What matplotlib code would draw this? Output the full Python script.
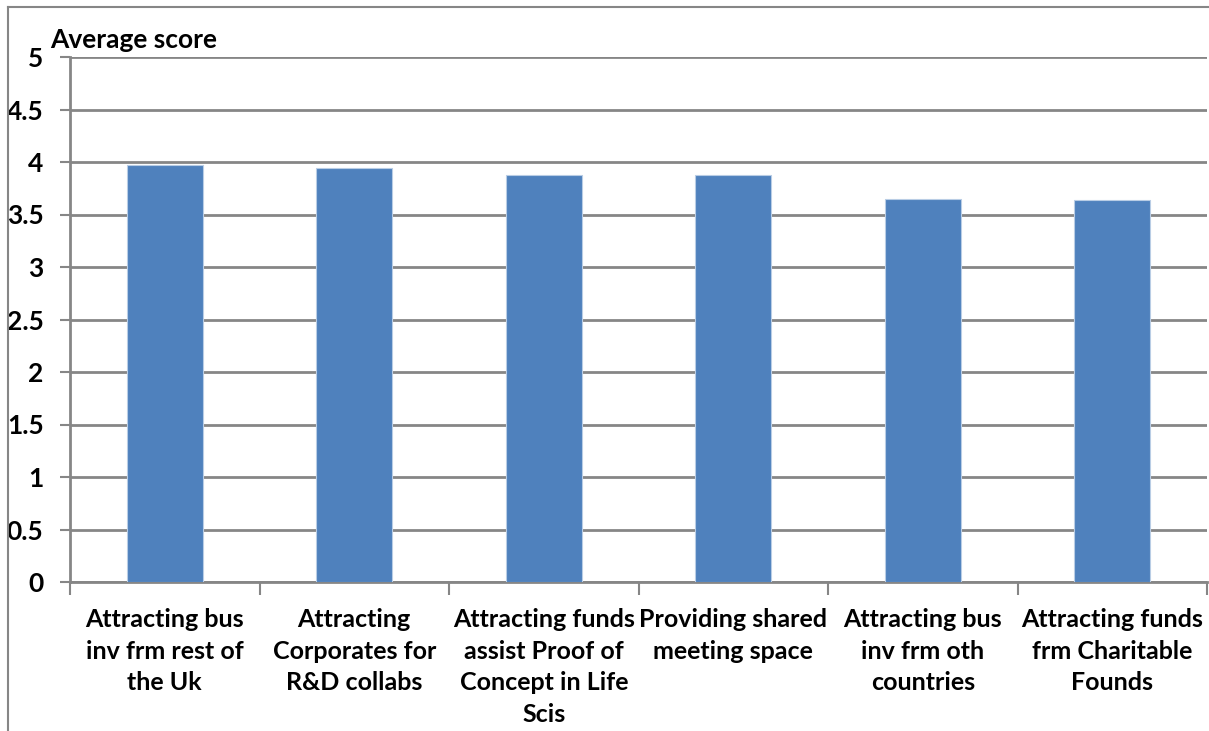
import matplotlib.pyplot as plt
from matplotlib.lines import Line2D

categories = [
    "Attracting bus\ninv frm rest of\nthe Uk",
    "Attracting\nCorporates for\nR&D collabs",
    "Attracting funds\nassist Proof of\nConcept in Life\nScis",
    "Providing shared\nmeeting space",
    "Attracting bus\ninv frm oth\ncountries",
    "Attracting funds\nfrm Charitable\nFounds",
]
scores = [3.97, 3.94, 3.88, 3.88, 3.65, 3.64]
yticks = [0, 0.5, 1, 1.5, 2, 2.5, 3, 3.5, 4, 4.5, 5]

plt.rcParams['font.family'] = ['Lato', 'DejaVu Sans']
plt.rcParams['font.weight'] = 'bold'

W, H = 1209, 731
fig = plt.figure(figsize=(W / 100, H / 100), dpi=100)
fig.patch.set_facecolor('white')
ax = fig.add_axes([70 / W, 1 - 582 / H, 1137 / W, 525 / H])

grid = '#868686'
x = list(range(len(categories)))
ax.bar(x, scores, width=0.4, color='#4F81BD', edgecolor='#B9CDE5', linewidth=0.8, zorder=3)

ax.set_xlim(-0.5, len(categories) - 0.5)
ax.set_ylim(0, 5)
ax.set_yticks(yticks)
ax.set_yticklabels(['%g' % v for v in yticks], fontsize=19, fontweight='bold')
ax.yaxis.grid(True, color=grid, linewidth=2, zorder=0)
ax.set_axisbelow(True)

# category labels sit between boundary ticks
ax.set_xticks([i - 0.5 for i in range(len(categories) + 1)])
ax.set_xticklabels([])
ax.set_xticks(x, minor=True)
ax.set_xticklabels(categories, minor=True, fontsize=18, fontweight='bold',
                   linespacing=1.45, va='top')
ax.tick_params(axis='x', which='minor', length=0, pad=19)
ax.tick_params(axis='x', which='major', length=9, width=1.5, color=grid, direction='out')
ax.tick_params(axis='y', length=7, width=1.5, color=grid, direction='out', pad=12)

for side in ['top', 'right']:
    ax.spines[side].set_visible(False)
for side in ['left', 'bottom']:
    ax.spines[side].set_color(grid)
    ax.spines[side].set_linewidth(2)

fig.text(50 / W, 1 - 40 / H, 'Average score', fontsize=19, fontweight='bold',
         ha='left', va='center')

# outer chart frame
fig.add_artist(Line2D([8 / W, 1], [1 - 7 / H, 1 - 7 / H], color=grid, linewidth=1.5,
                      transform=fig.transFigure))
fig.add_artist(Line2D([8 / W, 8 / W], [1 - 7 / H, 0], color=grid, linewidth=1.5,
                      transform=fig.transFigure))

fig.savefig('out.png', dpi=100)
